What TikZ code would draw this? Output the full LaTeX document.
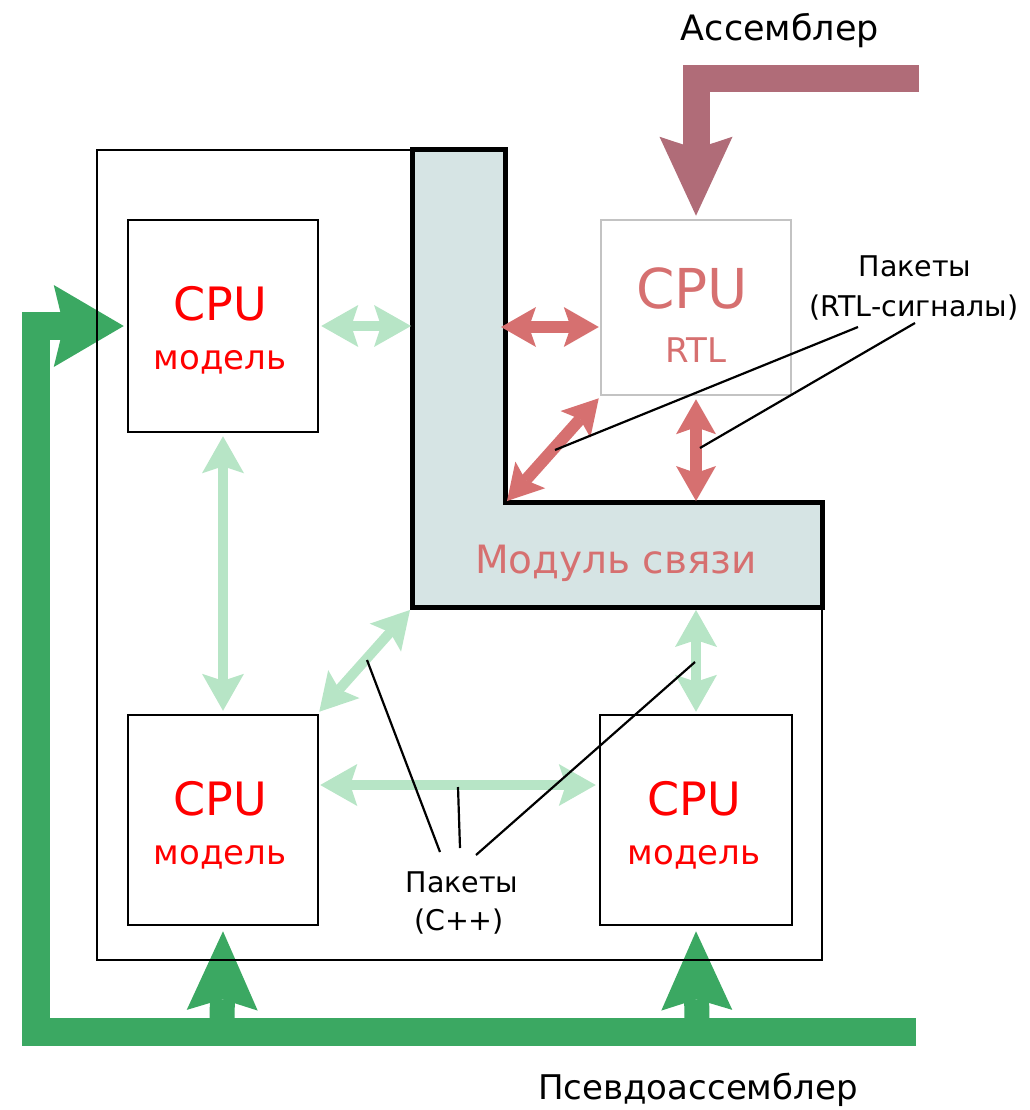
\documentclass[tikz,border=0pt]{standalone}
\usepackage{fontspec}
\setmainfont{DejaVu Sans}
\usetikzlibrary{arrows.meta}
\pgfdeclarelayer{back}
\pgfsetlayers{back,main}

\definecolor{busgreen}{RGB}{59,168,98}
\definecolor{pktgreen}{RGB}{183,229,198}
\definecolor{rtlred}{RGB}{214,112,112}
\definecolor{asmmauve}{RGB}{176,108,120}
\definecolor{linkfill}{RGB}{214,228,228}
\definecolor{rtlgray}{RGB}{195,195,195}

\newcommand\pxfont[1]{\fontsize{#1pt}{#1pt}\selectfont}

\tikzset{
  cpubox/.style={draw, line width=2.5pt, inner sep=0pt},
  rtlbox/.style={draw=rtlgray, line width=2.5pt, inner sep=0pt},
  frameline/.style={line width=2pt},
  linkshape/.style={draw, line width=5pt, fill=linkfill, line join=miter},
  label/.style={inner sep=0pt, anchor=base},
  callout/.style={line width=2.2pt},
  pktc/.style={pktgreen, line width=10pt,
    {Stealth[length=37pt,width=42pt,inset=7pt,line width=0pt]}-{Stealth[length=37pt,width=42pt,inset=7pt,line width=0pt]}},
  pktr/.style={rtlred, line width=12pt,
    {Stealth[length=35pt,width=40pt,inset=7pt,line width=0pt]}-{Stealth[length=35pt,width=40pt,inset=7pt,line width=0pt]}},
  busline/.style={busgreen, line width=28pt, line join=miter,
    -{Stealth[length=70pt,width=82pt,inset=10pt,line width=0pt]}},
  busup/.style={busgreen, line width=25pt,
    -{Stealth[length=79pt,width=71pt,inset=11pt,line width=0pt]}},
  asmline/.style={asmmauve, line width=27pt, line join=miter,
    -{Stealth[length=79pt,width=73pt,inset=12pt,line width=0pt]}},
}

\begin{document}
\begin{tikzpicture}[x=1pt,y=-1pt]
\useasboundingbox (0,0) rectangle (1029,1110);

% outer frame of the simulated system
\draw[frameline] (412,150) -- (97,150) -- (97,960) -- (822,960) -- (822,607);

% L-shaped link module
\draw[linkshape] (412,150) -- (505,150) -- (505,502) -- (822,502)
  -- (822,607) -- (412,607) -- cycle;
\node[label, text=rtlred] (linklbl) at (616,573) {\pxfont{39}Модуль связи};

% processor boxes
\node[cpubox, minimum width=190pt, minimum height=212pt] (m1) at (223,326) {};
\node[cpubox, minimum width=190pt, minimum height=210pt] (m2) at (223,820) {};
\node[cpubox, minimum width=192pt, minimum height=210pt] (m3) at (696,820) {};
\node[rtlbox, minimum width=190pt, minimum height=175pt] (rtl) at (696,307.5) {};

\node[label, text=red] (m1cpu) at (220,320) {\pxfont{46}CPU};
\node[label, text=red] (m1mod) at (220,369) {\pxfont{34}модель};
\node[label, text=red] (m2cpu) at (220,815) {\pxfont{46}CPU};
\node[label, text=red] (m2mod) at (220,864) {\pxfont{34}модель};
\node[label, text=red] (m3cpu) at (694,815) {\pxfont{46}CPU};
\node[label, text=red] (m3mod) at (694,864) {\pxfont{34}модель};
\node[label, text=rtlred] (rtlcpu) at (692,308) {\pxfont{55}CPU};
\node[label, text=rtlred] (rtlrtl) at (696,362) {\pxfont{34}RTL};

% input streams
\node[label] (asmlbl) at (780,41) {\pxfont{35}Ассемблер};
\node[label] (pseudolbl) at (698,1099) {\pxfont{34}Псевдоассемблер};

\coordinate (asmIn) at (919,79);
\coordinate (pseudoIn) at (916,1032);
\coordinate (busCorner) at (36,1032);
\coordinate (busUp2) at (222,1032);
\coordinate (busUp3) at (697,1032);

\begin{pgfonlayer}{back}
  \draw[asmline] (asmIn) -| ([yshift=3pt]rtl.north);
  \draw[busline] (pseudoIn) -- (busCorner) |- ([xshift=-3pt]m1.west);
  \draw[busup] (busUp2) -- ([yshift=-5pt]m2.south);
  \draw[busup] (busUp3) -- ([yshift=-5pt]m3.south);
\end{pgfonlayer}

% packet exchange between C++ models
\coordinate (linkW) at (411,326);
\coordinate (linkSW) at (410,610);
\coordinate (linkS) at (696,610);
\draw[pktc] ([xshift=2pt]m1.east |- linkW) -- (linkW);
\draw[pktc] ([yshift=-3pt]m1.south) -- ([yshift=3pt]m2.north);
\draw[pktc] ([yshift=2pt]m2.north east) -- (linkSW);
\draw[pktc] ([xshift=1pt,yshift=35pt]m2.east) -- ([xshift=-3pt,yshift=35pt]m3.west);
\draw[pktc] (linkS) -- ([yshift=2pt]m3.north);

% RTL signal exchange
\coordinate (linkE) at (501,327);
\coordinate (linkIn) at (507,501);
\coordinate (linkInS) at (696,501);
\draw[pktr] (linkE) -- ([xshift=-1pt]rtl.west |- linkE);
\draw[pktr] (linkIn) -- ([xshift=-1pt,yshift=-2pt]rtl.south west);
\draw[pktr] (linkInS) -- ([yshift=-3pt]rtl.south);

% callouts
\node[label] (pktR1) at (915,276) {\pxfont{28.5}Пакеты};
\node[label] (pktR2) at (914,316) {\pxfont{28.5}(RTL-сигналы)};
\coordinate (cR1) at (555,450);
\coordinate (cR1e) at (858,327);
\coordinate (cR2) at (700,448);
\coordinate (cR2e) at (915,323);
\draw[callout] (cR1) -- (cR1e);
\draw[callout] (cR2) -- (cR2e);

\node[label] (pktC1) at (462,892) {\pxfont{28.5}Пакеты};
\node[label] (pktC2) at (459,930) {\pxfont{28.5}(C++)};
\coordinate (cC1) at (367,660);
\coordinate (cC1e) at (440,852);
\coordinate (cC2) at (458,787);
\coordinate (cC2e) at (460,848);
\coordinate (cC3) at (695,662);
\coordinate (cC3e) at (476,855);
\draw[callout] (cC1) -- (cC1e);
\draw[callout] (cC2) -- (cC2e);
\draw[callout] (cC3) -- (cC3e);
\end{tikzpicture}
\end{document}
